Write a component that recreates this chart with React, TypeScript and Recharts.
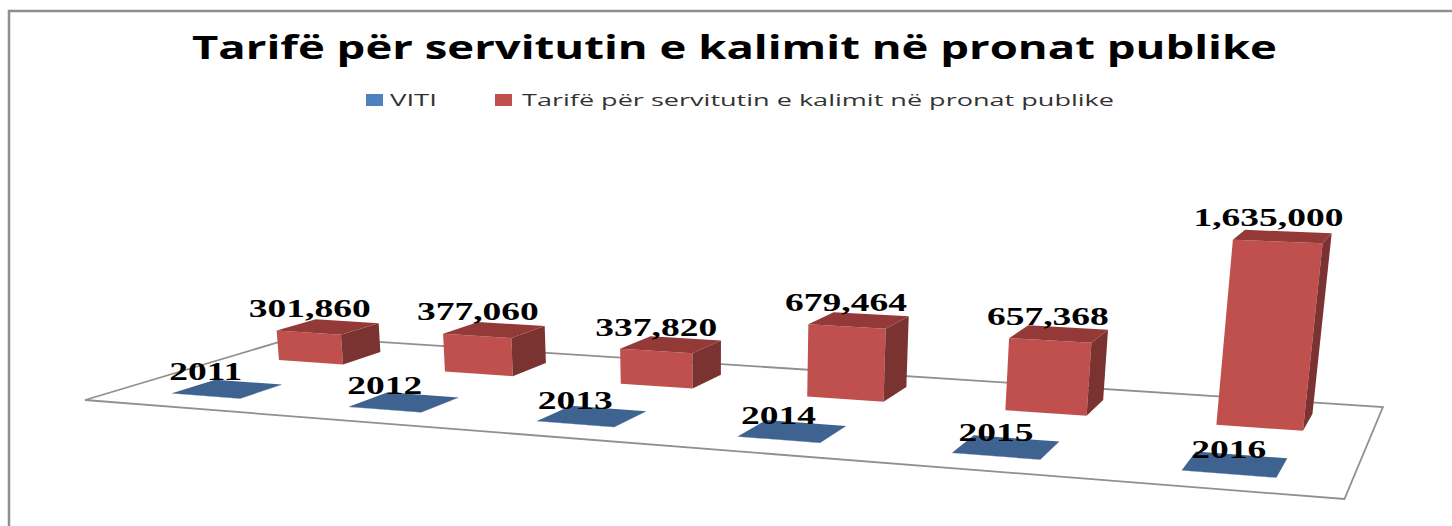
import React from 'react';
import { BarChart, Bar, XAxis, YAxis, Legend, LabelList } from 'recharts';

const years = ['2011', '2012', '2013', '2014', '2015', '2016'];
const vitiValues = [2011, 2012, 2013, 2014, 2015, 2016];
const tarifeValues = [301860, 377060, 337820, 679464, 657368, 1635000];
const TITLE = 'Tarifë për servitutin e kalimit në pronat publike';

const chartData = years.map((year, i) => ({
  year,
  viti: vitiValues[i],
  tarife: tarifeValues[i],
}));

const WIDTH = 1452;
const HEIGHT = 526;
const BAR_SIZE = 95;
const LEAN = 0.00018;
const LEAN_CENTER = 720;

// floor plane homography, unit square -> picture (from the floor corners)
const H = { a: 1012.6, b: 261.4, c: 85, d: 7.4, e: -7.4, f: 400, g: -0.1836, h: 0.1663 };

const project = (u: number, v: number, z: number) => {
  const w = H.g * u + H.h * v + 1;
  const x = (H.a * u + H.b * v + H.c) / w;
  const y = (H.d * u + H.e * v + H.f) / w;
  const rise = z / w;
  return { x: x + rise * (x - LEAN_CENTER) * LEAN, y: y - rise, baseX: x };
};

const pts = (list: { x: number; y: number }[]) => list.map((p) => `${p.x},${p.y}`).join(' ');

const Box = (props: any) => {
  const { x, width, height, vFront, vBack, front, side, top } = props;
  const u0 = x / WIDTH;
  const u1 = (x + width) / WIDTH;
  const z = Math.max(height, 0);
  const fbl = project(u0, vFront, 0);
  const fbr = project(u1, vFront, 0);
  const bbr = project(u1, vBack, 0);
  const ftl = project(u0, vFront, z);
  const ftr = project(u1, vFront, z);
  const btl = project(u0, vBack, z);
  const btr = project(u1, vBack, z);
  return (
    <g>
      <polygon points={pts([fbl, fbr, ftr, ftl])} fill={front} />
      <polygon points={pts([fbr, bbr, btr, ftr])} fill={side} />
      <polygon points={pts([ftl, ftr, btr, btl])} fill={top} />
    </g>
  );
};

const BoxLabel = (props: any) => {
  const { x, width, height, value, vFront, format } = props;
  const u = (x + width / 2) / WIDTH;
  const p = project(u, vFront, Math.max(height, 0));
  const labelX = (p.x + p.baseX) / 2;
  return (
    <text
      transform={`translate(${labelX},${p.y - 15.5}) scale(1.5,1)`}
      textAnchor="middle"
      fontFamily="'Liberation Serif', serif"
      fontWeight="bold"
      fontSize={25}
      fill="#000"
    >
      {format ? Number(value).toLocaleString('en-US') : value}
    </text>
  );
};

const Floor = () => {
  const corners = [project(0, 0, 0), project(1, 0, 0), project(1, 1, 0), project(0, 1, 0)];
  return <polygon points={pts(corners)} fill="#fff" stroke="#909090" strokeWidth={1.8} />;
};

const LegendRow = ({ payload }: any) => (
  <svg width={WIDTH} height={30} style={{ display: 'block' }}>
    {(payload || []).map((item: any) => {
      const s = item.value === 'VITI' ? { box: 366, text: 390, len: 47 } : { box: 495, text: 522, len: 592 };
      return (
        <g key={item.value}>
          <rect x={s.box} y={4} width={17} height={12} fill={item.color} />
          <text
            x={s.text}
            y={16}
            textLength={s.len}
            lengthAdjust="spacingAndGlyphs"
            fontFamily="'Open Sans', sans-serif"
            fontSize={17}
            fill="#333"
          >
            {item.value}
          </text>
        </g>
      );
    })}
  </svg>
);

export default function App() {
  return (
    <div style={{ position: 'absolute', left: 0, top: 0, width: WIDTH, height: HEIGHT, background: '#fff', overflow: 'hidden' }}>
      <BarChart
        width={WIDTH}
        height={HEIGHT}
        data={chartData}
        barSize={BAR_SIZE}
        barGap={-BAR_SIZE}
        margin={{ top: 70, right: 0, bottom: 251, left: 0 }}
      >
        <rect x={9} y={11} width={1500} height={560} fill="#fff" stroke="#8f8f8f" strokeWidth={2.5} />
        <text
          x={734.5}
          y={59}
          textAnchor="middle"
          textLength={1085}
          lengthAdjust="spacingAndGlyphs"
          fontFamily="'Open Sans', sans-serif"
          fontWeight="bold"
          fontSize={33}
          fill="#000"
        >
          {TITLE}
        </text>
        <Floor />
        <XAxis dataKey="year" hide />
        <YAxis hide domain={[0, 1635000]} />
        <Legend
          verticalAlign="top"
          itemSorter={null}
          content={<LegendRow />}
          wrapperStyle={{ position: 'absolute', left: 0, top: 90, width: WIDTH, height: 30 }}
        />
        <Bar
          dataKey="viti"
          name="VITI"
          fill="#4F81BD"
          isAnimationActive={false}
          shape={<Box vFront={0.145} vBack={0.34} front="#3E6390" side="#34547a" top="#3E6390" />}
        >
          <LabelList dataKey="viti" content={<BoxLabel vFront={0.145} />} />
        </Bar>
        <Bar
          dataKey="tarife"
          name={TITLE}
          fill="#C0504D"
          isAnimationActive={false}
          shape={<Box vFront={0.65} vBack={0.855} front="#C0504D" side="#7B3331" top="#933A38" />}
        >
          <LabelList dataKey="tarife" content={<BoxLabel vFront={0.65} format />} />
        </Bar>
      </BarChart>
    </div>
  );
}
